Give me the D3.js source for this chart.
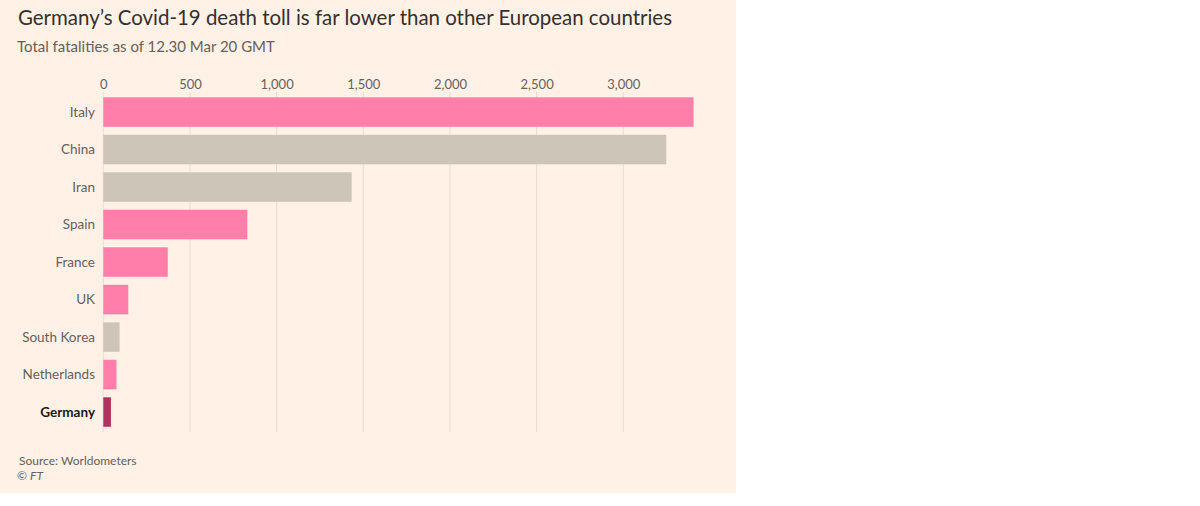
<!DOCTYPE html>
<html>
<head>
<meta charset="utf-8">
<script src="https://cdn.jsdelivr.net/npm/d3@7"></script>
<style>
  html, body { margin: 0; padding: 0; background: #ffffff; }
  svg { display: block; }
  text { font-family: Lato, "Open Sans", sans-serif; }
</style>
</head>
<body>
<svg id="chart" width="1200" height="506"></svg>
<script>
const countries = ["Italy", "China", "Iran", "Spain", "France", "UK", "South Korea", "Netherlands", "Germany"];
const deaths = [3405, 3248, 1433, 831, 372, 144, 94, 76, 44];
const groups = ["europe", "other", "other", "europe", "europe", "europe", "other", "europe", "germany"];
const tickValues = [0, 500, 1000, 1500, 2000, 2500, 3000];
const titleText = "Germany\u2019s Covid-19 death toll is far lower than other European countries";
const subtitleText = "Total fatalities as of 12.30 Mar 20 GMT";
const sourceText = "Source: Worldometers";

const colors = { europe: "#FF7FAA", other: "#CEC5B9", germany: "#B4315E" };

const svg = d3.select("#chart");
svg.append("rect").attr("x", 0).attr("y", 0).attr("width", 736).attr("height", 493).attr("fill", "#FFF1E5");

const x = d3.scaleLinear().domain([0, 3000]).range([103.3, 623.3]);
const y = d3.scaleBand().domain(countries).range([93.3, 430.8]).paddingInner(0.213).paddingOuter(0.107);

// gridlines
const grid = svg.append("g");
grid.selectAll("line").data(tickValues).join("line")
  .attr("x1", d => x(d)).attr("x2", d => x(d))
  .attr("y1", 92).attr("y2", 432)
  .attr("stroke", "#E9DCD1").attr("stroke-width", 1);

// axis
const axis = d3.axisTop(x).tickValues(tickValues).tickSize(0).tickPadding(0)
  .tickFormat(d3.format(","));
const ax = svg.append("g").attr("transform", "translate(0,89)").call(axis);
ax.select(".domain").remove();
ax.selectAll("text").attr("fill", "#66605C").style("font-size", "13px").style("font-family", "Lato, sans-serif");

// bars
const data = countries.map((c, i) => ({ c, v: deaths[i], g: groups[i] }));
svg.append("g").selectAll("rect").data(data).join("rect")
  .attr("x", x(0))
  .attr("y", d => y(d.c))
  .attr("width", d => x(d.v) - x(0))
  .attr("height", y.bandwidth())
  .attr("fill", d => colors[d.g]);

// category labels
svg.append("g").selectAll("text").data(data).join("text")
  .attr("x", 95)
  .attr("y", d => y(d.c) + y.bandwidth() / 2)
  .attr("dy", "0.35em")
  .attr("text-anchor", "end")
  .attr("fill", d => d.g === "germany" ? "#1A1817" : "#66605C")
  .style("font-weight", d => d.g === "germany" ? "bold" : "normal")
  .style("font-size", "13.5px")
  .text(d => d.c);

// title & subtitle
svg.append("text").attr("x", 18).attr("y", 25).attr("fill", "#33302E")
  .attr("textLength", 654).attr("lengthAdjust", "spacingAndGlyphs")
  .style("font-size", "21.5px").text(titleText);
svg.append("text").attr("x", 17).attr("y", 52).attr("fill", "#66605C")
  .style("font-size", "15px").text(subtitleText);

// source
svg.append("text").attr("x", 19).attr("y", 465).attr("fill", "#66605C")
  .style("font-size", "12px").text(sourceText);
const cr = svg.append("text").attr("x", 17).attr("y", 480).attr("fill", "#66605C").style("font-size", "12px");
cr.append("tspan").text("\u00A9 ");
cr.append("tspan").style("font-style", "italic").text("FT");
</script>
</body>
</html>
